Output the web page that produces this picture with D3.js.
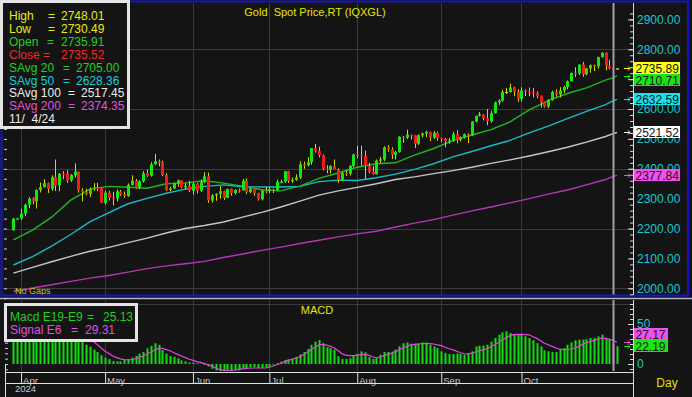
<!DOCTYPE html>
<html>
<head>
<meta charset="utf-8">
<title>Gold Spot Price,RT (IQXGL)</title>
<script src="https://cdn.jsdelivr.net/npm/d3@7/dist/d3.min.js"></script>
<style>
  html, body { margin: 0; padding: 0; background: #141414; overflow: hidden; }
  svg { display: block; font-family: "Liberation Sans", Arial, sans-serif; }
  text { white-space: pre; }
</style>
</head>
<body>
<svg id="drawing_region"></svg>
<script>
// trading days on the chart (2024, MM/DD)
const dates = [
  "03/28","03/29",
  "04/01","04/02","04/03","04/04","04/05","04/08","04/09","04/10","04/11","04/12",
  "04/15","04/16","04/17","04/18","04/19","04/22","04/23","04/24","04/25","04/26","04/29","04/30",
  "05/01","05/02","05/03","05/06","05/07","05/08","05/09","05/10","05/13","05/14","05/15","05/16",
  "05/17","05/20","05/21","05/22","05/23","05/24","05/27","05/28","05/29","05/30","05/31",
  "06/03","06/04","06/05","06/06","06/07","06/10","06/11","06/12","06/13","06/14","06/17","06/18",
  "06/19","06/20","06/21","06/24","06/25","06/26","06/27","06/28",
  "07/01","07/02","07/03","07/04","07/05","07/08","07/09","07/10","07/11","07/12","07/15","07/16",
  "07/17","07/18","07/19","07/22","07/23","07/24","07/25","07/26","07/29","07/30","07/31",
  "08/01","08/02","08/05","08/06","08/07","08/08","08/09","08/12","08/13","08/14","08/15","08/16",
  "08/19","08/20","08/21","08/22","08/23","08/26","08/27","08/28","08/29","08/30",
  "09/02","09/03","09/04","09/05","09/06","09/09","09/10","09/11","09/12","09/13","09/16","09/17",
  "09/18","09/19","09/20","09/23","09/24","09/25","09/26","09/27","09/30",
  "10/01","10/02","10/03","10/04","10/07","10/08","10/09","10/10","10/11","10/14","10/15","10/16",
  "10/17","10/18","10/21","10/22","10/23","10/24","10/25","10/28","10/29","10/30","10/31",
  "11/01","11/04","11/05"
];

const open = [
  2194,2233,
  2234,2250,2280,2300,2291,2329,2339,2352,2333,2372,2344,2383,2383,2361,2379,2391,2327,2322,2316,2332,2337,2335,
  2286,2320,2303,2301,2324,2314,2309,2346,2360,2336,2358,2385,2377,2415,2425,2421,2379,2329,2334,2350,2361,2338,2343,
  2327,2350,2327,2355,2375,2294,2311,2316,2325,2303,2333,2319,2329,2328,2360,2322,2334,2319,2298,2327,
  2326,2332,2330,2356,2357,2392,2359,2363,2371,2415,2411,2422,2469,2459,2445,2400,2396,2409,2397,2364,2386,2384,2410,
  2447,2446,2443,2410,2390,2382,2427,2431,2472,2465,2447,2456,2507,2504,2514,2512,2484,2512,2518,2524,2504,2520,
  2503,2500,2493,2495,2516,2497,2506,2516,2512,2558,2577,2582,2569,2559,2586,2622,2628,2657,2657,2672,2658,
  2634,2662,2658,2656,2653,2643,2622,2608,2630,2657,2649,2662,2674,2693,2721,2720,2749,2716,2736,2747,2743,2774,2788,
  2744,2735.91,2735.52
];
const high = [
  2236,2236,
  2266,2283,2305,2305,2331,2354,2365,2354,2378,2431,2386,2392,2395,2382,2418,2391,2335,2333,2338,2352,2353,2337,
  2326,2326,2323,2331,2329,2324,2351,2378,2366,2362,2392,2397,2422,2450,2431,2427,2385,2340,2354,2364,2362,2352,2360,
  2354,2353,2364,2388,2387,2315,2318,2342,2327,2333,2334,2332,2334,2366,2368,2337,2335,2320,2330,2339,
  2339,2334,2364,2363,2392,2393,2371,2381,2425,2424,2439,2469,2483,2474,2448,2412,2412,2431,2402,2390,2394,2412,2451,
  2477,2477,2461,2420,2409,2431,2440,2475,2479,2472,2460,2509,2510,2531,2514,2512,2515,2521,2527,2524,2526,2524,
  2504,2503,2503,2524,2529,2508,2518,2519,2560,2578,2590,2583,2600,2594,2625,2633,2664,2670,2685,2675,2666,
  2673,2666,2672,2670,2659,2645,2624,2633,2661,2666,2673,2678,2696,2722,2740,2749,2758,2737,2749,2749,2775,2790,2790,
  2765,2748.01,2737
];
const low = [
  2193,2230,
  2229,2241,2268,2281,2267,2321,2337,2319,2326,2326,2325,2365,2353,2356,2371,2320,2291,2311,2306,2326,2325,2285,
  2280,2294,2277,2291,2309,2303,2306,2344,2333,2332,2354,2373,2374,2412,2408,2375,2326,2325,2332,2340,2335,2331,2322,
  2314,2317,2323,2352,2286,2287,2293,2300,2296,2302,2310,2314,2320,2327,2316,2319,2310,2294,2294,2318,
  2318,2319,2327,2352,2353,2353,2353,2360,2366,2400,2409,2414,2454,2438,2395,2385,2384,2400,2353,2360,2376,2377,2405,
  2435,2410,2364,2385,2380,2381,2419,2425,2457,2433,2431,2454,2487,2500,2498,2470,2480,2505,2506,2493,2500,2494,
  2489,2472,2484,2490,2485,2491,2502,2486,2510,2555,2575,2562,2546,2554,2585,2614,2624,2651,2655,2643,2624,
  2625,2643,2643,2639,2636,2605,2605,2603,2628,2641,2639,2654,2666,2692,2707,2714,2708,2713,2722,2727,2735,2772,2730,
  2733,2730.49,2734
];
const close = [
  2233,2234,
  2250,2280,2300,2291,2329,2339,2352,2333,2372,2344,2383,2382,2361,2379,2391,2327,2322,2316,2332,2337,2335,2286,
  2320,2303,2301,2324,2314,2309,2346,2360,2336,2358,2385,2377,2415,2425,2421,2379,2329,2334,2350,2361,2338,2343,2327,
  2350,2327,2355,2375,2294,2311,2316,2325,2303,2333,2319,2329,2328,2360,2322,2334,2319,2298,2327,2326,
  2332,2330,2356,2357,2392,2359,2363,2371,2415,2411,2422,2469,2459,2445,2400,2396,2409,2397,2364,2386,2384,2410,2447,
  2446,2443,2410,2390,2382,2427,2431,2472,2465,2447,2456,2507,2504,2514,2512,2484,2512,2518,2524,2504,2520,2503,
  2500,2493,2495,2516,2497,2506,2516,2512,2558,2577,2582,2569,2559,2586,2622,2628,2657,2657.5,2672,2658,2634,
  2662,2658,2656,2653,2643,2622,2608,2630,2657,2649,2662,2674,2693,2721,2720,2749,2716,2736,2747,2743,2774,2788,2744,
  2736,2735.52,2735.89
];

// simple averages at these days
const maDays = [
  "03/28","04/04","04/11","04/18","04/25","05/02","05/09","05/16","05/23","05/30","06/06","06/13",
  "06/20","06/27","07/04","07/11","07/18","07/25","08/01","08/08","08/15","08/22","08/29","09/05",
  "09/12","09/19","09/26","10/03","10/10","10/17","10/24","10/31","11/04","11/05"
];
const savg20 = [
  2162,2195,2238,2295,2332,2341,2338,2335,2350,2353,2360,2352,2342,2330,2326,2342,2368,2386,2405,2417,
  2420,2446,2468,2494,2513,2531,2557,2597,2628,2652,2671,2697,2705.00,2710.71
];
const savg50 = [
  2078,2106,2141,2180,2222,2253,2283,2301,2318,2332,2341,2346,2340,2339,2339,2341,2357,2362,2361,2370,
  2382,2398,2417,2440,2458,2477,2495,2520,2543,2568,2592,2615,2628.36,2632.59
];
const savg100 = [
  2051,2070,2089,2107,2124,2137,2153,2168,2185,2200,2210,2222,2238,2254,2272,2292,2312,2326,2338,2350,
  2364,2373,2384,2394,2405,2418,2430,2443,2457,2472,2489,2508,2517.45,2521.52
];
const savg200 = [
  1990,2001,2012,2023,2034,2043,2054,2066,2075,2082,2090,2103,2115,2127,2138,2150,2161,2172,2182,2191,
  2205,2218,2230,2245,2259,2272,2286,2300,2315,2329,2346,2364,2374.35,2377.84
];

// MACD E19-E9 and signal E6, one per day
const macd = [
  42,43,45,48,52,54,57,60,62,61,63,60,61,60,56,54,53,42,32,24,21.6,18,15,11,8,6,3.7,3.3,3.3,5,
  6,8,10,13,15,19.6,22.5,26,24,17.5,13,10,9,7,4.6,3.3,2,2,1,0.5,-1,-3,-6,-8,-9,-10,-10,-9,-8,-8,
  -5,-5,-4,-4,-5,-5,-4,-3,-1,1,3,5,6,7,9,12,15,19,24,28,30,26,21,20,18,9.6,6.3,6.3,7,10,
  12.5,15.8,14.6,8.8,6.3,7.5,11.7,15,15,15.5,18,22,26,27,25.4,25.4,25.4,27,27,24,22,20,15.8,13.8,12.5,12.5,13,12.5,11.7,13.8,
  15.8,22,23,23,24,28,32.5,36.7,39.6,40.8,38.8,36.7,36.7,36.7,34.6,32.5,29.6,26,22,17,15.8,15,15,18,20,24,27,29.6,30.4,30.4,
  31,32.5,32.5,34.6,36.7,32.5,30.4,25.13,22.19
];
const signal = [
  38,39,40,42,44,46,48,50,53,55,57,58,59,59,59,58,57,53,48,41,35,28,24,20,16,13,10,8,6.5,5.5,
  5.2,5.4,6.5,8.5,10,12.5,15,17.5,19.5,19.5,18,16.5,14,12,10,8,6,4.5,3,2,0.5,-1,-3,-5,-7,-8,-8.5,-8,-7.5,-6.5,
  -6,-5.5,-5,-5,-5,-5,-5,-4,-2.5,-1,1,3,4.5,6,7.5,9,12,15,18,21,24,24.5,23.5,22,20,16.5,13,11,10.4,10.5,
  11,11.7,12,11,9,7.8,8.5,10.5,12,13.5,15.5,17.9,20,22,24,24.5,25,25.4,25.6,25.4,25,24,23,21,19,17.9,16,14,12.8,12.5,
  13.5,15,16.5,18,19,21.5,24,27,30,33,35.5,36.7,37,37,36.7,36.5,34,32,29,26,24,22,20,18.5,18,18.3,18.75,20,22,24.5,
  26.5,28,29.5,31,32.5,32,31,29.31,27.17
];

const months = ["Apr", "May", "Jun", "Jul", "Aug", "Sep", "Oct"];
const monthStarts = ["04/01", "05/01", "06/03", "07/01", "08/01", "09/02", "10/01"];
const priceTicks = [2000, 2100, 2200, 2300, 2400, 2500, 2600, 2700, 2800, 2900];
const gridPrices = [2000, 2200, 2400, 2600, 2800];
const cursorDay = "11/04";

const axisX = 633;
const svg = d3.select("#drawing_region").attr("width", 692).attr("height", 397);

const x = d3.scaleBand().domain(dates).range([11.5, 618.9]);
const cx = d => x(d) + x.bandwidth() / 2;
const y = d3.scaleLinear().domain([2000, 2900]).range([288.3, 19.4]);
const ym = d3.scaleLinear().domain([0, 50]).range([364, 324]);

svg.append("rect").attr("width", 692).attr("height", 397).attr("fill", "#141414");

const defs = svg.append("defs");
defs.append("clipPath").attr("id", "clip-main")
    .append("rect").attr("x", 3).attr("y", 3).attr("width", axisX - 4).attr("height", 292);
defs.append("clipPath").attr("id", "clip-macd")
    .append("rect").attr("x", 6).attr("y", 300).attr("width", axisX - 7).attr("height", 71);

// grid
const grid = svg.append("g").attr("stroke", "#3b3b3b").attr("stroke-width", 1);
grid.selectAll(null).data(gridPrices).join("line")
    .attr("x1", 3).attr("x2", axisX)
    .attr("y1", d => Math.round(y(d)) + 0.5).attr("y2", d => Math.round(y(d)) + 0.5);
grid.selectAll(null).data(monthStarts).join("line")
    .attr("x1", d => Math.round(cx(d)) + 0.5).attr("x2", d => Math.round(cx(d)) + 0.5)
    .attr("y1", 3).attr("y2", 295);
grid.selectAll(null).data(monthStarts).join("line")
    .attr("x1", d => Math.round(cx(d)) + 0.5).attr("x2", d => Math.round(cx(d)) + 0.5)
    .attr("y1", 300).attr("y2", 371);
grid.append("line").attr("x1", 6).attr("x2", axisX)
    .attr("y1", Math.round(ym(75)) + 0.5).attr("y2", Math.round(ym(75)) + 0.5);

// moving averages and candles
const plot = svg.append("g").attr("clip-path", "url(#clip-main)");
const maLine = d3.line().x((d, i) => cx(maDays[i])).y(d => y(d));
[[savg200, "#b536b5"], [savg100, "#c6c6c6"], [savg50, "#19b9c8"], [savg20, "#22b522"]]
    .forEach(([vals, col]) => {
        plot.append("path").attr("d", maLine(vals))
            .attr("fill", "none").attr("stroke", col).attr("stroke-width", 1.4);
    });

const bars = dates.map((d, i) => ({ date: d, o: open[i], h: high[i], l: low[i], c: close[i] }));
const candle = plot.selectAll(".candle").data(bars).join("g").attr("class", "candle");
candle.append("line")
    .attr("x1", d => Math.round(cx(d.date)) + 0.5).attr("x2", d => Math.round(cx(d.date)) + 0.5)
    .attr("y1", d => y(d.h)).attr("y2", d => y(d.l))
    .attr("stroke", "#d8d800").attr("stroke-width", 1);
candle.append("rect")
    .attr("x", d => Math.round(cx(d.date)) - 1).attr("width", 3)
    .attr("y", d => y(Math.max(d.o, d.c)))
    .attr("height", d => Math.max(1.2, Math.abs(y(d.o) - y(d.c))))
    .attr("fill", d => d.date === cursorDay ? "#2b2bd8"
        : d.c - d.o > 0.6 ? "#14e614" : d.o - d.c > 0.6 ? "#ee1c1c" : "#e0e000");

svg.append("text").attr("x", 15).attr("y", 294)
    .attr("font-size", 9).attr("fill", "#c8c800").text("No Gaps");

// MACD histogram + signal
const sub = svg.append("g").attr("clip-path", "url(#clip-macd)");
const hist = dates.map((d, i) => ({ date: d, v: macd[i] }));
sub.selectAll(".hbar").data(hist).join("rect").attr("class", "hbar")
    .attr("x", d => Math.round(cx(d.date)) - 0.5).attr("width", 2)
    .attr("y", d => ym(Math.max(0, d.v)))
    .attr("height", d => Math.abs(ym(d.v) - ym(0)))
    .attr("fill", d => d.date === cursorDay ? "#d420d4" : "#10dc10");
sub.append("path")
    .attr("d", d3.line().x((d, i) => cx(dates[i])).y(d => ym(d))(signal))
    .attr("fill", "none").attr("stroke", "#e444e4").attr("stroke-width", 1.2);

// cursor line
const cursorX = Math.round(cx(cursorDay)) + 0.5;
svg.append("line").attr("x1", cursorX).attr("x2", cursorX).attr("y1", 3).attr("y2", 295)
    .attr("stroke", "#a0a0a0").attr("stroke-width", 2);
svg.append("line").attr("x1", cursorX).attr("x2", cursorX).attr("y1", 300).attr("y2", 371)
    .attr("stroke", "#a0a0a0").attr("stroke-width", 2);

// frames
svg.append("rect").attr("x", 1.5).attr("y", 1.5).attr("width", 686.5).attr("height", 294)
    .attr("fill", "none").attr("stroke", "#1515c8").attr("stroke-width", 2);
svg.append("line").attr("x1", 0).attr("x2", 692).attr("y1", 298.5).attr("y2", 298.5)
    .attr("stroke", "#b4b4b4").attr("stroke-width", 1.5);
svg.append("line").attr("x1", axisX + 0.5).attr("x2", axisX + 0.5).attr("y1", 3).attr("y2", 295)
    .attr("stroke", "#d8d8d8");
svg.append("line").attr("x1", axisX + 0.5).attr("x2", axisX + 0.5).attr("y1", 300).attr("y2", 397)
    .attr("stroke", "#d8d8d8");

// price axis (right)
const minorPrice = d3.range(1980, 2921, 20);
const tickGroup = (scale, vals, size, xpos) => {
    const g = svg.append("g").attr("transform", `translate(${xpos},0)`).attr("color", "#d8d8d8")
        .call(d3.axisLeft(scale).tickValues(vals).tickSize(size).tickFormat(""));
    g.select(".domain").remove();
    return g;
};
tickGroup(y, minorPrice, 3, axisX);
tickGroup(y, priceTicks, 5, axisX);
const priceLabels = svg.append("g").attr("transform", `translate(${axisX},0)`)
    .call(d3.axisRight(y).tickValues(priceTicks).tickSize(0).tickPadding(4).tickFormat(d3.format(".2f")));
priceLabels.select(".domain").remove();
priceLabels.selectAll("text").attr("fill", "#16c8d2").attr("font-size", 12)
    .attr("font-family", "Liberation Sans, Arial, sans-serif");

// left ticks
const leftMain = svg.append("g").attr("transform", "translate(4,0)").attr("color", "#d0d0d0")
    .call(d3.axisRight(y).tickValues(d3.range(2000 - 100 / 3, 2920, 100 / 3)).tickSize(3).tickFormat(""));
leftMain.select(".domain").remove();
const leftSub = svg.append("g").attr("transform", "translate(5,0)").attr("color", "#d0d0d0")
    .call(d3.axisRight(ym).tickValues(d3.range(-20 / 3, 80, 20 / 3)).tickSize(3).tickFormat(""));
leftSub.select(".domain").remove();

// MACD axis (right)
tickGroup(ym, d3.range(-6.25, 80, 6.25), 3, axisX);
tickGroup(ym, [0, 50], 5, axisX);
const macdLabels = svg.append("g").attr("transform", `translate(${axisX},0)`)
    .call(d3.axisRight(ym).tickValues([0, 50]).tickSize(0).tickPadding(4).tickFormat(d3.format("d")));
macdLabels.select(".domain").remove();
macdLabels.selectAll("text").attr("fill", "#16c8d2").attr("font-size", 12)
    .attr("font-family", "Liberation Sans, Arial, sans-serif");

// last-value tags
function drawTags(items, scale, boxW, downward) {
    items.forEach(d => { d.py = scale(d.v); });
    const sorted = items.slice().sort((a, b) => downward ? a.py - b.py : b.py - a.py);
    let prev = null;
    sorted.forEach(d => {
        d.ty = d.py;
        if (prev !== null) d.ty = downward ? Math.max(d.py, prev + 12) : Math.min(d.py, prev - 12);
        prev = d.ty;
    });
    const g = svg.append("g");
    items.forEach(d => {
        const ay = Math.round(d.py) + 0.5;
        g.append("path").attr("d", `M${axisX - 9},${ay}h6m-2,-2l2,2l-2,2`)
            .attr("fill", "none").attr("stroke", d.color).attr("stroke-width", 1);
        g.append("rect").attr("x", axisX + 1).attr("y", Math.round(d.ty - 6)).attr("width", boxW).attr("height", 12)
            .attr("fill", d.color);
        g.append("text").attr("x", axisX + 2.5).attr("y", Math.round(d.ty - 6) + 10.5)
            .attr("font-size", 12).attr("fill", "#141414").text(d.v.toFixed(2));
    });
}
const last = dates.length - 1;
drawTags([
    { v: close[last], color: "#ffff10" },
    { v: savg20[savg20.length - 1], color: "#18e418" },
    { v: savg50[savg50.length - 1], color: "#18e0ec" },
    { v: savg100[savg100.length - 1], color: "#ffffff" },
    { v: savg200[savg200.length - 1], color: "#f050f0" }
], y, 46, true);
drawTags([
    { v: signal[last], color: "#f050f0" },
    { v: macd[last], color: "#18e418" }
], ym, 34, false);

// date axis
const xAxis = svg.append("g").attr("transform", "translate(0,372)").attr("color", "#e0e0e0")
    .call(d3.axisBottom(x).tickValues(monthStarts).tickSize(11).tickFormat((d, i) => months[i]));
xAxis.select(".domain").remove();
xAxis.selectAll(".tick line").attr("transform", "translate(0.5,0)");
xAxis.selectAll("text").attr("text-anchor", "start").attr("x", 2).attr("y", 11.5).attr("dy", 0)
    .attr("font-size", 9.5).attr("fill", "#c4c4d0").attr("font-family", "Liberation Sans, Arial, sans-serif");
svg.append("line").attr("x1", 5).attr("x2", axisX).attr("y1", 372.5).attr("y2", 372.5).attr("stroke", "#e0e0e0");
svg.append("line").attr("x1", 5).attr("x2", axisX).attr("y1", 383.5).attr("y2", 383.5).attr("stroke", "#e0e0e0");
svg.append("line").attr("x1", 5.5).attr("x2", 5.5).attr("y1", 365).attr("y2", 397).attr("stroke", "#e0e0e0");
svg.append("text").attr("x", 15).attr("y", 392).attr("font-size", 9.5).attr("fill", "#c8c8c8").text("2024");
svg.append("text").attr("x", 667).attr("y", 387).attr("text-anchor", "middle")
    .attr("font-size", 12).attr("fill", "#e0e000").text("Day");

// titles
svg.append("text").attr("x", 315).attr("y", 16).attr("text-anchor", "middle")
    .attr("font-size", 11).attr("fill", "#e6e600").text("Gold  Spot Price,RT (IQXGL)");
svg.append("text").attr("x", 317).attr("y", 313.5).attr("text-anchor", "middle")
    .attr("font-size", 11).attr("fill", "#e6e600").text("MACD");

// data legend (cursor day)
const ci = dates.indexOf(cursorDay);
const mi = maDays.indexOf(cursorDay);
const fmt = v => v.toFixed(2);
const legendRows = [
    { label: "High", eqX: 48, valX: 61, value: fmt(high[ci]), color: "#eaea10" },
    { label: "Low", eqX: 48, valX: 61, value: fmt(low[ci]), color: "#eaea10" },
    { label: "Open", eqX: 47, valX: 61, value: fmt(open[ci]), color: "#1ed21e" },
    { label: "Close", eqX: 43, valX: 61, value: fmt(close[ci]), color: "#f02a2a" },
    { label: "SAvg 20", eqX: 63, valX: 76, value: fmt(savg20[mi]), color: "#1ed21e" },
    { label: "SAvg 50", eqX: 63, valX: 76, value: fmt(savg50[mi]), color: "#18d0dc" },
    { label: "SAvg 100", eqX: 68, valX: 81, value: fmt(savg100[mi]), color: "#ececec" },
    { label: "SAvg 200", eqX: 68, valX: 81, value: fmt(savg200[mi]), color: "#e050e0" }
];
const legend = svg.append("g");
legend.append("rect").attr("x", 1.5).attr("y", 1.5).attr("width", 127).attr("height", 126)
    .attr("fill", "#141414").attr("stroke", "#e4e4e4").attr("stroke-width", 3);
legendRows.forEach((r, i) => {
    const t = legend.append("text").attr("y", 20 + 12.9 * i).attr("font-size", 12).attr("fill", r.color);
    t.append("tspan").attr("x", 9).text(r.label);
    t.append("tspan").attr("x", r.eqX).text("=");
    t.append("tspan").attr("x", r.valX).text(r.value);
});
const [cm, cd] = cursorDay.split("/");
legend.append("text").attr("x", 9).attr("y", 20 + 12.9 * 8).attr("font-size", 12).attr("fill", "#ececec")
    .text(`${cm}/  ${+cd}/24`);

// MACD legend
const macdLegend = svg.append("g");
macdLegend.append("rect").attr("x", 5.5).attr("y", 304.5).attr("width", 131).attr("height", 36)
    .attr("fill", "#141414").attr("stroke", "#e4e4e4").attr("stroke-width", 3);
[
    { label: "Macd E19-E9", eqX: 87, valX: 103, value: fmt(macd[ci]), color: "#1ed21e" },
    { label: "Signal E6", eqX: 71, valX: 85, value: fmt(signal[ci]), color: "#e050e0" }
].forEach((r, i) => {
    const t = macdLegend.append("text").attr("y", 320.5 + 13.5 * i).attr("font-size", 12).attr("fill", r.color);
    t.append("tspan").attr("x", 10).text(r.label);
    t.append("tspan").attr("x", r.eqX).text("=");
    t.append("tspan").attr("x", r.valX).text(r.value);
});
</script>
</body>
</html>
